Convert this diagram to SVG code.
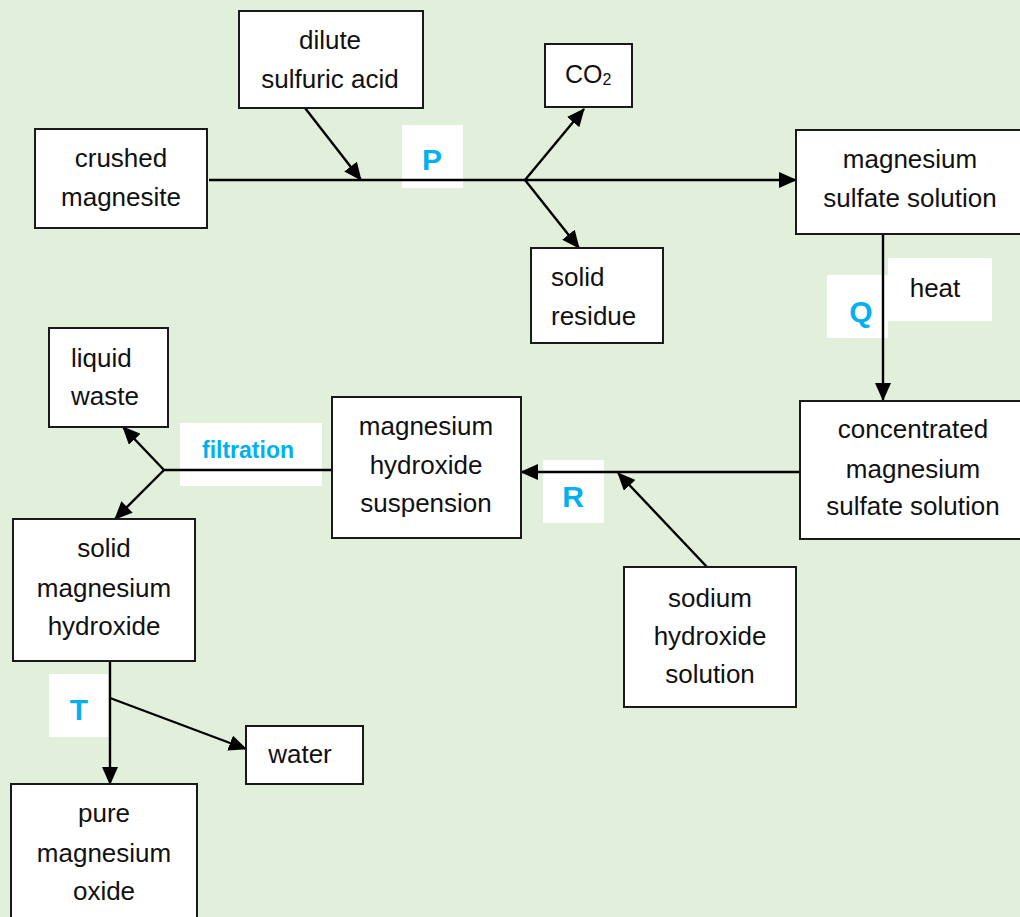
<svg xmlns="http://www.w3.org/2000/svg" width="1020" height="917" viewBox="0 0 1020 917">
<defs>
<marker id="ah" viewBox="0 0 18 16" refX="17" refY="8" markerWidth="18" markerHeight="16" markerUnits="userSpaceOnUse" orient="auto">
<path d="M0,0 L18,8 L0,16 z" fill="#000"/>
</marker>
<style>
.box{fill:#fff;stroke:#1a1a1a;stroke-width:2}
.t{font-family:"Liberation Sans",Arial,sans-serif;font-size:26px;fill:#111}
.c{text-anchor:middle}
.lbg{fill:#fff}
.lab{font-family:"Liberation Sans",Arial,sans-serif;font-size:30px;font-weight:bold;fill:#00B0F0;text-anchor:middle}
.conn path{fill:none;stroke:#000;stroke-width:2.4}
.arr{marker-end:url(#ah)}
</style>
</defs>
<rect x="0" y="0" width="1020" height="917" fill="#E2EFDA"/>

<g id="labels">
<rect class="lbg" x="402" y="125" width="61" height="63"/>
<text class="lab" x="432" y="170">P</text>
<rect class="lbg" x="888" y="258" width="104" height="63"/>
<text class="t c" x="935" y="297">heat</text>
<rect class="lbg" x="827" y="275" width="61" height="63"/>
<text class="lab" x="861" y="322">Q</text>
<rect class="lbg" x="543" y="460" width="61" height="63"/>
<text class="lab" x="573" y="507">R</text>
<rect class="lbg" x="180" y="423" width="142" height="63"/>
<text class="lab" x="248" y="458" style="font-size:23px">filtration</text>
<rect class="lbg" x="49" y="674" width="59" height="63"/>
<text class="lab" x="79" y="720">T</text>
</g>

<g id="connectors" class="conn">
<path class="arr" d="M209,180 L796,180"/>
<path class="arr" d="M305,108 L361,180"/>
<path class="arr" d="M525,180 L584,109"/>
<path class="arr" d="M525,180 L579,248"/>
<path class="arr" d="M883,234 L883,400"/>
<path class="arr" d="M800,472 L521,472"/>
<path class="arr" d="M707,567 L618,473"/>
<path d="M332,470 L164,470"/>
<path class="arr" d="M164,470 L123,427"/>
<path class="arr" d="M164,470 L115,519"/>
<path class="arr" d="M110,661 L110,784"/>
<path class="arr" d="M110,698 L246,749"/>
</g>

<g id="dilute-acid">
<rect class="box" x="239" y="11" width="184" height="97"/>
<text class="t c" x="330" y="49">dilute</text>
<text class="t c" x="330" y="88">sulfuric acid</text>
</g>
<g id="co2">
<rect class="box" x="545" y="44" width="87" height="63"/>
<text class="t" x="565" y="83" style="font-size:25px">CO<tspan style="font-size:16px" dy="2">2</tspan></text>
</g>
<g id="crushed-magnesite">
<rect class="box" x="35" y="129" width="172" height="99"/>
<text class="t c" x="121" y="167">crushed</text>
<text class="t c" x="121" y="206">magnesite</text>
</g>
<g id="magnesium-sulfate-solution">
<rect class="box" x="796" y="130" width="230" height="104"/>
<text class="t c" x="910" y="168">magnesium</text>
<text class="t c" x="910" y="207">sulfate solution</text>
</g>
<g id="solid-residue">
<rect class="box" x="531" y="248" width="132" height="95"/>
<text class="t" x="551" y="286">solid</text>
<text class="t" x="551" y="325">residue</text>
</g>
<g id="concentrated-solution">
<rect class="box" x="800" y="401" width="226" height="138"/>
<text class="t c" x="913" y="438">concentrated</text>
<text class="t c" x="913" y="478">magnesium</text>
<text class="t c" x="913" y="515">sulfate solution</text>
</g>
<g id="hydroxide-suspension">
<rect class="box" x="332" y="397" width="189" height="141"/>
<text class="t c" x="426" y="435">magnesium</text>
<text class="t c" x="426" y="474">hydroxide</text>
<text class="t c" x="426" y="512">suspension</text>
</g>
<g id="sodium-hydroxide">
<rect class="box" x="624" y="567" width="172" height="140"/>
<text class="t c" x="710" y="607">sodium</text>
<text class="t c" x="710" y="645">hydroxide</text>
<text class="t c" x="710" y="683">solution</text>
</g>
<g id="liquid-waste">
<rect class="box" x="49" y="328" width="119" height="99"/>
<text class="t" x="71" y="367">liquid</text>
<text class="t" x="71" y="405">waste</text>
</g>
<g id="solid-hydroxide">
<rect class="box" x="13" y="519" width="182" height="142"/>
<text class="t c" x="104" y="557">solid</text>
<text class="t c" x="104" y="597">magnesium</text>
<text class="t c" x="104" y="635">hydroxide</text>
</g>
<g id="water">
<rect class="box" x="246" y="726" width="117" height="58"/>
<text class="t c" x="300" y="763">water</text>
</g>
<g id="magnesium-oxide">
<rect class="box" x="11" y="784" width="186" height="140"/>
<text class="t c" x="104" y="822">pure</text>
<text class="t c" x="104" y="862">magnesium</text>
<text class="t c" x="104" y="900">oxide</text>
</g>
</svg>
